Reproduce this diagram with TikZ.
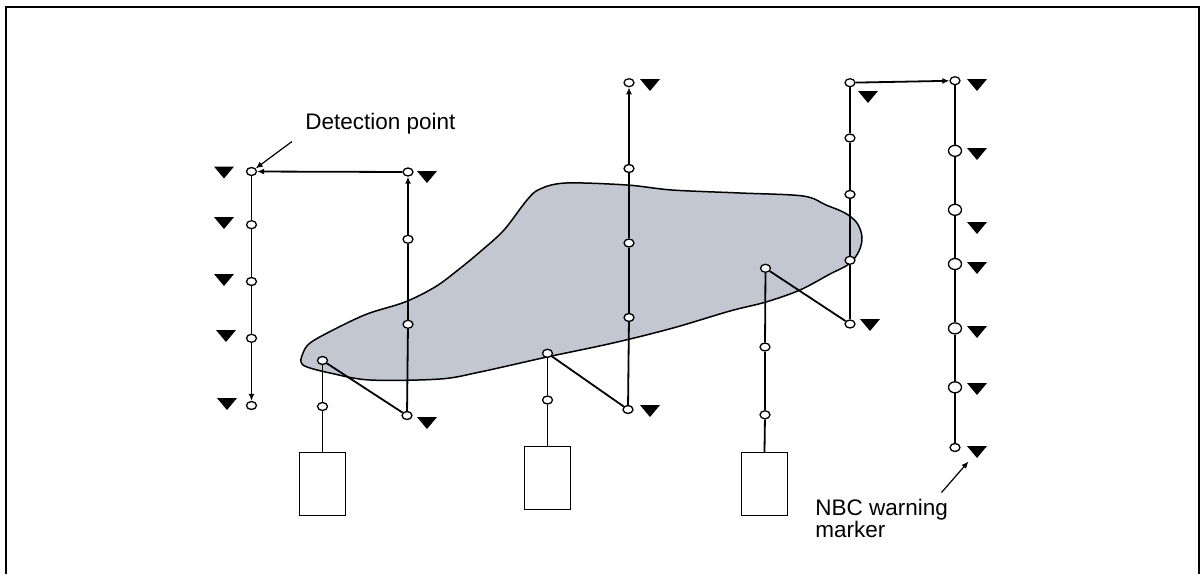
\documentclass[tikz,border=0pt]{standalone}
\usepackage{fontspec}
\setmainfont{Liberation Sans}
\usetikzlibrary{arrows.meta,shapes.geometric}
\begin{document}
\begin{tikzpicture}[x=0.5pt,y=-0.5pt,
  pt/.style={ellipse,draw,fill=white,line width=0.65pt,minimum width=5pt,minimum height=4pt,inner sep=0pt},
  bigpt/.style={pt,minimum width=6.5pt,minimum height=5.5pt},
  ln/.style={line width=0.9pt},
  arr/.style={ln,-{Latex[length=3.5pt,width=3pt]}},
  thinarr/.style={line width=0.6pt,-{Latex[length=3.5pt,width=3pt]}},
  src/.style={draw,line width=0.75pt,fill=white,minimum width=23pt,minimum height=31.5pt,inner sep=0pt},
  lbl/.style={inner sep=0pt,anchor=base west,font=\fontsize{11.25pt}{11pt}\selectfont},
  tri/.pic={\fill (-10,-6)--(10,-6)--(0,6)--cycle;}
]
\useasboundingbox (0,0) rectangle (1201,574);
% frame
\draw[line width=1pt] (6,574)--(6,7)--(1199,7)--(1199,574);
% cloud
\filldraw[fill={rgb,255:red,195;green,199;blue,210},line width=0.75pt]
 plot[smooth cycle,tension=0.55] coordinates{
 (301,362) (307,367) (330,373) (370,380) (440,379) (480,372) (547,357) (613,343)
 (673,328) (730,311) (766,302) (800,290) (830,274) (849,264) (859,251) (862,237)
 (857,223) (845,213) (826,205) (803,196) (740,193) (672,190) (627,185) (566,183)
 (540,189) (527,200) (504,230) (481,251) (458,270) (435,287) (405,302) (367,314)
 (333,330) (310,343) (303,353)};
% source boxes
\node[src] (b1) at (322.5,484) {};
\node[src] (b2) at (547.5,478.2) {};
\node[src] (b3) at (764.5,484) {};
% column 1
\node[pt] (c1a) at (251.5,171.5) {};
\node[pt] (c1b) at (251.5,224.7) {};
\node[pt] (c1c) at (251.5,281.5) {};
\node[pt] (c1d) at (251.5,338.3) {};
\node[pt] (c1e) at (251.5,405.5) {};
% column 2
\node[pt] (c2a) at (408,172) {};
\node[pt] (c2b) at (408,239.3) {};
\node[pt] (c2c) at (408,324.3) {};
\node[pt] (c2d) at (407,415.5) {};
% column 3
\node[pt] (c3a) at (629,82.7) {};
\node[pt] (c3b) at (629,168.5) {};
\node[pt] (c3c) at (629,243) {};
\node[pt] (c3d) at (629,317.5) {};
\node[pt] (c3e) at (628,409.5) {};
% column 4
\node[pt] (c4a) at (850,82.7) {};
\node[pt] (c4b) at (850,138) {};
\node[pt] (c4c) at (850,194.4) {};
\node[pt] (c4d) at (850,260.3) {};
\node[pt] (c4e) at (850,324) {};
% column 5
\node[pt] (c5a) at (955,80.7) {};
\node[bigpt] (c5b) at (955,150.8) {};
\node[bigpt] (c5c) at (955,209.8) {};
\node[bigpt] (c5d) at (955,264) {};
\node[bigpt] (c5e) at (955,328.4) {};
\node[bigpt] (c5f) at (955,387.3) {};
\node[pt] (c5g) at (955,447.5) {};
% sources
\node[pt] (s1a) at (322.5,360.5) {};
\node[pt] (s1b) at (322.5,406.5) {};
\node[pt] (s2a) at (547.5,353.3) {};
\node[pt] (s2b) at (547.5,400) {};
\node[pt] (s3a) at (765.5,268.3) {};
\node[pt] (s3b) at (765,347) {};
\node[pt] (s3c) at (765,414.8) {};
% connectors column 1
\draw[ln] (c1a)--(c1b);
\draw[ln] (c1b)--(c1c);
\draw[ln] (c1c)--(c1d);
\draw[arr] (c1d)--(c1e);
\draw[arr] (c2a)--(c1a);
% column 2
\draw[ln] (c2d)--(c2c);
\draw[ln] (c2c)--(c2b);
\draw[arr] (c2b)--(c2a);
% column 3
\draw[ln] (c3e)--(c3d);
\draw[ln] (c3d)--(c3c);
\draw[ln] (c3c)--(c3b);
\draw[arr] (c3b)--(c3a);
% column 4
\draw[ln] (c4a)--(c4b);
\draw[ln] (c4b)--(c4c);
\draw[ln] (c4c)--(c4d);
\draw[ln] (c4d)--(c4e);
\draw[arr] (c4a)--(c5a);
% column 5
\draw[ln] (c5a)--(c5b);
\draw[ln] (c5b)--(c5c);
\draw[ln] (c5c)--(c5d);
\draw[ln] (c5d)--(c5e);
\draw[ln] (c5e)--(c5f);
\draw[ln] (c5f)--(c5g);
% sources
\draw[ln] (b1.north)--(s1b);
\draw[ln] (s1b)--(s1a);
\draw[ln] (s1a)--(c2d);
\draw[ln] (b2.north)--(s2b);
\draw[ln] (s2b)--(s2a);
\draw[ln] (s2a)--(c3e);
\draw[ln] (b3.north)--(s3c);
\draw[ln] (s3c)--(s3b);
\draw[ln] (s3b)--(s3a);
\draw[ln] (s3a)--(c4e);
% markers
\foreach \p in {(224,172.5),(224,223),(224,280),(226,336),(227,404),
  (427,177),(427,423),(650,85),(650,411),(868,97),(870,325),
  (977,85),(977,154),(977,228),(977,268),(977,332),(977,389),(977,452)}
  \pic at \p {tri};
% labels
\node[lbl] (dp) at (305,129) {Detection point};
\coordinate (dpa) at (292,141.5);
\draw[thinarr] (dpa)--(c1a);
\node[lbl] (nbc1) at (815,515) {NBC warning};
\node[lbl] (nbc2) at (815,537) {marker};
\coordinate (nbca) at (941.5,492.5);
\coordinate (nbcb) at (968.5,461.5);
\draw[thinarr] (nbca)--(nbcb);
\end{tikzpicture}
\end{document}
